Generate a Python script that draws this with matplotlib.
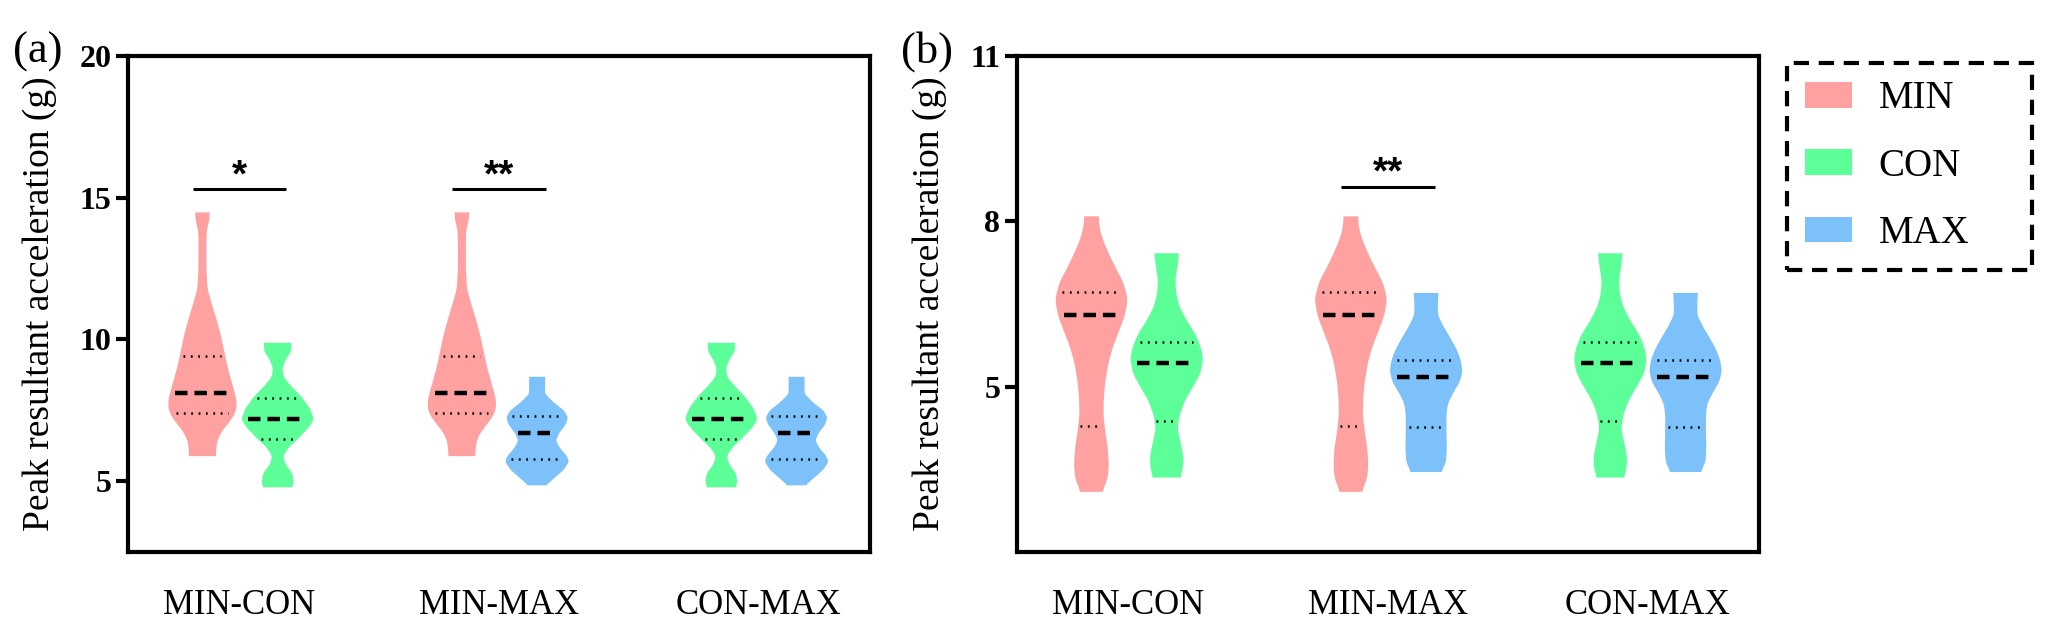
import numpy as np
import matplotlib
matplotlib.use("Agg")
import matplotlib.pyplot as plt
from matplotlib.patches import Patch

# ---------------- data ----------------
comparisons = ["MIN-CON", "MIN-MAX", "CON-MAX"]
pair_conditions = [("MIN", "CON"), ("MIN", "MAX"), ("CON", "MAX")]
conditions = ["MIN", "CON", "MAX"]

# Panel (a): violin outlines = relative density at each acceleration value (g)
a_MIN_vals = [14.5, 14.2, 13.9, 13.5, 12.5, 11.8, 11.3, 10.8, 10.2, 9.6, 9.0, 8.45, 8.0, 7.7, 7.4, 7.1, 6.8, 6.5, 6.2, 5.9]
a_MIN_dens = [0.20, 0.19, 0.12, 0.11, 0.11, 0.14, 0.25, 0.37, 0.50, 0.60, 0.70, 0.82, 0.92, 0.95, 0.90, 0.74, 0.55, 0.42, 0.38, 0.37]
a_CON_vals = [9.9, 9.6, 9.3, 9.0, 8.7, 8.4, 8.0, 7.6, 7.2, 6.9, 6.5, 6.2, 5.9, 5.6, 5.3, 5.0, 4.8]
a_CON_dens = [0.38, 0.37, 0.22, 0.13, 0.16, 0.35, 0.65, 0.88, 1.00, 0.85, 0.55, 0.30, 0.15, 0.22, 0.40, 0.44, 0.40]
a_MAX_vals = [8.7, 8.4, 8.1, 7.8, 7.5, 7.25, 7.0, 6.7, 6.45, 6.2, 5.9, 5.7, 5.4, 5.1, 4.87]
a_MAX_dens = [0.22, 0.22, 0.22, 0.45, 0.75, 0.85, 0.78, 0.60, 0.52, 0.62, 0.82, 0.88, 0.72, 0.45, 0.25]
# quartiles (Q1, median, Q3)
a_MIN_quart = [7.40, 8.11, 9.43]
a_CON_quart = [6.50, 7.19, 7.93]
a_MAX_quart = [5.79, 6.71, 7.30]

# Panel (b)
b_MIN_vals = [8.1, 7.9, 7.7, 7.45, 7.2, 6.9, 6.6, 6.3, 6.0, 5.75, 5.45, 5.1, 4.8, 4.5, 4.2, 3.9, 3.6, 3.35, 3.1]
b_MIN_dens = [0.20, 0.22, 0.30, 0.46, 0.64, 0.88, 1.00, 0.92, 0.75, 0.60, 0.47, 0.38, 0.34, 0.33, 0.38, 0.45, 0.48, 0.45, 0.30]
b_CON_vals = [7.43, 7.2, 6.95, 6.7, 6.45, 6.2, 5.95, 5.7, 5.5, 5.25, 5.0, 4.75, 4.5, 4.25, 4.0, 3.75, 3.55, 3.36]
b_CON_dens = [0.34, 0.30, 0.24, 0.26, 0.36, 0.56, 0.80, 0.95, 1.00, 0.93, 0.72, 0.50, 0.36, 0.30, 0.38, 0.46, 0.45, 0.38]
b_MAX_vals = [6.71, 6.5, 6.3, 6.1, 5.9, 5.7, 5.5, 5.3, 5.1, 4.9, 4.7, 4.5, 4.2, 3.9, 3.65, 3.46]
b_MAX_dens = [0.34, 0.32, 0.33, 0.48, 0.66, 0.83, 0.95, 1.00, 0.93, 0.75, 0.60, 0.56, 0.56, 0.57, 0.55, 0.42]
b_MIN_quart = [4.29, 6.30, 6.71]
b_CON_quart = [4.37, 5.43, 5.81]
b_MAX_quart = [4.26, 5.17, 5.49]

sig_a = ["*", "**", ""]
sig_b = ["", "**", ""]
sig_a_level = 15.3
sig_b_level = 8.63

yticks_a = [5, 10, 15, 20]
yticks_b = [5, 8, 11]
ylim_a = (2.5, 20)
ylim_b = (2, 11)
ylabel = "Peak resultant acceleration (g)"
panel_tags = ["(a)", "(b)"]

# ---------------- styling ----------------
colors = {"MIN": "#FFA1A1", "CON": "#5CFF98", "MAX": "#7CC1FA"}
plt.rcParams["font.family"] = ["Liberation Serif", "DejaVu Serif"]
plt.rcParams["lines.scale_dashes"] = False

W, H = 2047, 635
fig = plt.figure(figsize=(W / 100, H / 100), dpi=100)

ax_left = [128, 1017]
ax_top, ax_bot, ax_w = 56, 552, 742
axes = []
for xl in ax_left:
    axes.append(fig.add_axes([xl / W, 1 - ax_bot / H, ax_w / W, (ax_bot - ax_top) / H]))

OFFSET = 0.145
MAXW = 0.28


def draw_violin(ax, xc, vals, dens, quart, color):
    v = np.asarray(vals, float)
    d = np.asarray(dens, float)
    order = np.argsort(v)
    v, d = v[order], d[order]
    y = np.linspace(v[0], v[-1], 600)
    w = np.interp(y, v, d)
    k = 25
    wp = np.pad(w, k // 2, mode="edge")
    w = np.convolve(wp, np.ones(k) / k, mode="valid")
    half = w * MAXW / 2
    ax.fill_betweenx(y, xc - half, xc + half, color=color, lw=0, zorder=2)
    q1, med, q3 = quart
    for q, is_med in ((q1, False), (q3, False), (med, True)):
        hw = np.interp(q, y, half) * 0.82
        if is_med:
            ax.plot([xc - hw, xc + hw], [q, q], color="black", lw=3.2,
                    linestyle=(0, (9, 5)), solid_capstyle="butt", zorder=3)
        else:
            ax.plot([xc - hw, xc + hw], [q, q], color="black", lw=1.8,
                    linestyle=(0, (1.3, 4.0)), zorder=3)


panel_data = [
    {"MIN": (a_MIN_vals, a_MIN_dens, a_MIN_quart),
     "CON": (a_CON_vals, a_CON_dens, a_CON_quart),
     "MAX": (a_MAX_vals, a_MAX_dens, a_MAX_quart)},
    {"MIN": (b_MIN_vals, b_MIN_dens, b_MIN_quart),
     "CON": (b_CON_vals, b_CON_dens, b_CON_quart),
     "MAX": (b_MAX_vals, b_MAX_dens, b_MAX_quart)},
]
sigs = [sig_a, sig_b]
sig_levels = [sig_a_level, sig_b_level]
yticks = [yticks_a, yticks_b]
ylims = [ylim_a, ylim_b]

for p, ax in enumerate(axes):
    data = panel_data[p]
    for i, (c1, c2) in enumerate(pair_conditions):
        draw_violin(ax, i - OFFSET, *data[c1], colors[c1])
        draw_violin(ax, i + OFFSET, *data[c2], colors[c2])
        s = sigs[p][i]
        if s:
            ax.plot([i - 0.18, i + 0.18], [sig_levels[p]] * 2, color="black", lw=2.2,
                    solid_capstyle="butt", zorder=3)
            ax.annotate(s, xy=(i, sig_levels[p]), xytext=(0, 2), textcoords="offset points",
                        ha="center", va="baseline", fontsize=28, fontweight="bold",
                        family=["Liberation Sans", "DejaVu Sans"])
    ax.set_xlim(-0.43, 2.43)
    ax.set_ylim(*ylims[p])
    ax.set_yticks(yticks[p])
    ax.set_yticklabels([str(t) for t in yticks[p]], fontweight="bold", fontsize=23)
    ax.set_xticks(range(len(comparisons)))
    ax.set_xticklabels(comparisons, fontsize=25)
    ax.tick_params(axis="x", length=0, pad=27)
    ax.tick_params(axis="y", length=9, width=3, pad=3, direction="out")
    for sp in ax.spines.values():
        sp.set_linewidth(3)
        sp.set_color("black")
    ax.set_ylabel(ylabel, fontsize=27)
    ax.yaxis.set_label_coords(-0.096 if p == 0 else -0.094, 0.5)

fig.text(38 / W, 1 - 52 / H, panel_tags[0], fontsize=32, ha="center", va="center")
fig.text(927 / W, 1 - 52 / H, panel_tags[1], fontsize=32, ha="center", va="center")

handles = [Patch(facecolor=colors[c], edgecolor="none", label=c) for c in conditions]
leg_x0, leg_x1, leg_y0, leg_y1 = 1787, 2032, 63, 255
leg = fig.legend(handles=handles, loc="upper left",
                 bbox_to_anchor=(leg_x0 / W, 1 - leg_y1 / H, (leg_x1 - leg_x0) / W, (leg_y1 - leg_y0) / H),
                 bbox_transform=fig.transFigure, mode="expand", fontsize=28,
                 handlelength=1.23, handleheight=0.64, handletextpad=0.67,
                 labelspacing=0.78, borderpad=0.45, borderaxespad=0, fancybox=False,
                 frameon=True)
fr = leg.get_frame()
fr.set_edgecolor("black")
fr.set_linewidth(3)
fr.set_linestyle((0, (11, 7)))
fr.set_facecolor("white")
fr.set_alpha(1)

fig.savefig("out.png", dpi=100)
